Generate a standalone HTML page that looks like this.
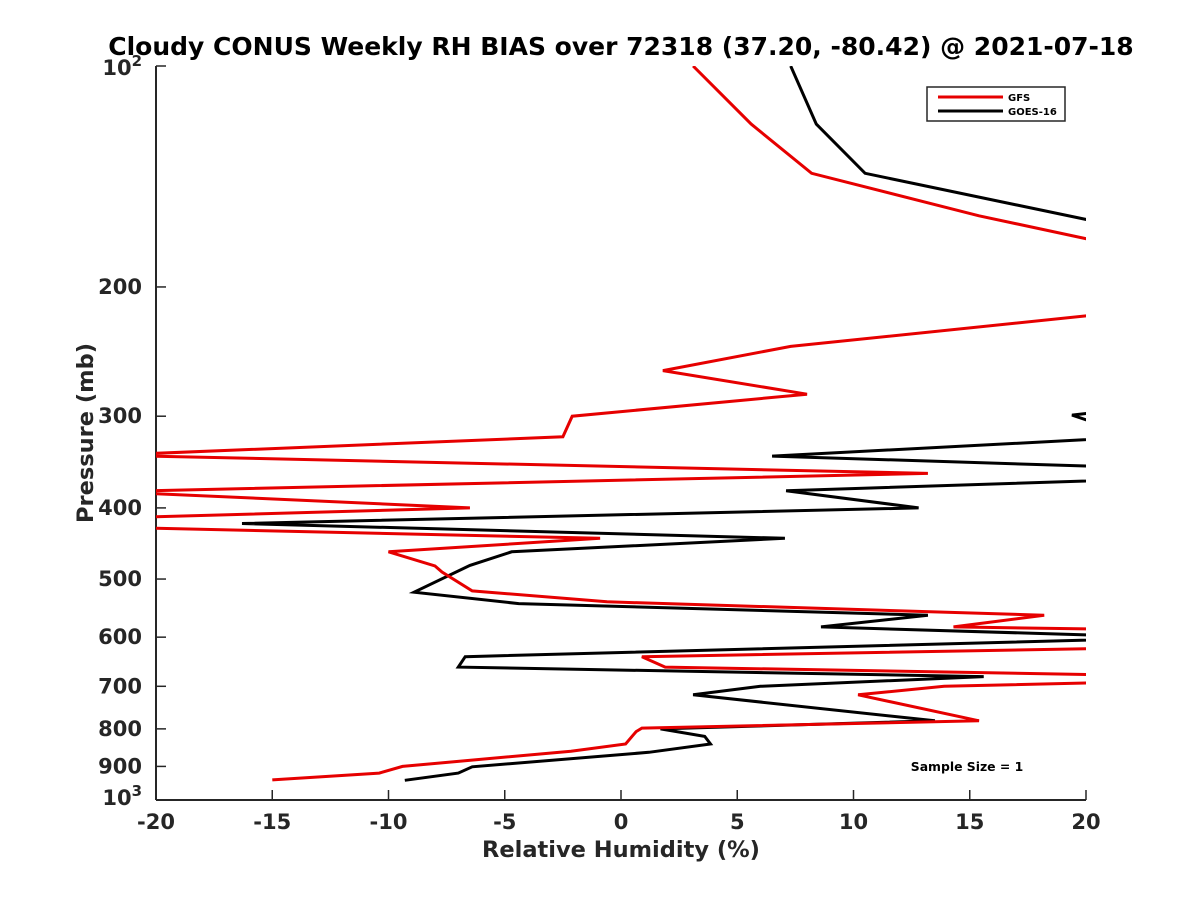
<!DOCTYPE html>
<html><head><meta charset="utf-8"><style>
body{margin:0;background:#fff;}
svg{display:block;font-family:"DejaVu Sans","Liberation Sans",sans-serif;}
</style></head><body>
<svg id="chart" width="1200" height="900">
<defs><clipPath id="plotclip"><rect x="156" y="66" width="930" height="734"/></clipPath></defs>
<text x="621" y="55" text-anchor="middle" font-size="25" font-weight="bold" fill="#000">Cloudy CONUS Weekly RH BIAS over 72318 (37.20, -80.42) @ 2021-07-18</text>
<g id="axes"></g>
<g id="series" clip-path="url(#plotclip)"></g>
<g>
<rect x="927" y="87" width="138" height="34" fill="#fff" stroke="#262626" stroke-width="1.5"/>
<line x1="938" y1="97" x2="1003" y2="97" stroke="#e60000" stroke-width="3"/>
<text x="1008" y="101" font-size="10" font-weight="bold">GFS</text>
<line x1="938" y1="111" x2="1003" y2="111" stroke="#000" stroke-width="3"/>
<text x="1008" y="115" font-size="10" font-weight="bold">GOES-16</text>
</g>
<text x="967" y="771" text-anchor="middle" font-size="12.4" font-weight="bold">Sample Size = 1</text>
<text x="621" y="857" text-anchor="middle" font-size="22.5" font-weight="bold" fill="#262626">Relative Humidity (%)</text>
<text transform="translate(93,433) rotate(-90)" text-anchor="middle" font-size="22.5" font-weight="bold" fill="#262626">Pressure (mb)</text>
</svg>
<script>
const xTicks=[-20,-15,-10,-5,0,5,10,15,20];
const yTicks=[100,200,300,400,500,600,700,800,900,1000];
const gfsP=[100,120,140,160,183,216,219,241,260,280,300,320,339,359,380,400,413,425,440,459,480,489,519,537,560,581,587,619,638,659,678,688,700,719,780,798,807,839,858,900,919,939];
const gfsV=[3.1,5.6,8.2,15.4,24,24,20,7.3,1.8,8.0,-2.1,-2.5,-22,13.2,-22,-6.5,-22,-22,-0.9,-10.0,-8.0,-7.7,-6.4,-0.6,18.2,14.3,24,24,0.9,1.9,24,24,13.9,10.2,15.4,0.9,0.65,0.2,-2.15,-9.4,-10.4,-15.0];
const goesP=[100,120,140,172,296,299,308,318,340,359,379,400,420,440,459,479,521,540,560,581,601,638,659,679,700,719,780,800,819,839,861,901,919,940];
const goesV=[7.3,8.4,10.5,24,20.6,19.4,20.6,24,6.5,30,7.1,12.8,-16.3,7.05,-4.7,-6.5,-8.9,-4.4,13.2,8.6,24,-6.7,-7.0,15.6,6.0,3.1,13.5,1.7,3.6,3.85,1.2,-6.4,-7.0,-9.3];
const X0=156,X1=1086,Y0=66,Y1=800;
function xs(v){return X0+(v+20)/40*(X1-X0);}
function ys(p){return Y0+(Math.log10(p)-2)*(Y1-Y0);}
const NS="http://www.w3.org/2000/svg";
const axes=document.getElementById('axes');
function mk(tag,attrs,parent){const e=document.createElementNS(NS,tag);for(const k in attrs)e.setAttribute(k,attrs[k]);parent.appendChild(e);return e;}
let a=mk('line',{x1:X0,y1:Y0,x2:X0,y2:Y1,stroke:'#262626','stroke-width':2},axes);


let b=mk('line',{x1:X0,y1:Y1,x2:X1,y2:Y1,stroke:'#262626','stroke-width':2},axes);


xTicks.forEach(v=>{
 const t=mk('line',{x1:xs(v),y1:Y1,x2:xs(v),y2:Y1-10,stroke:'#262626','stroke-width':1.5},axes);
 
 
 const l=mk('text',{x:xs(v),y:Y1+29,'text-anchor':'middle','font-size':21,'font-weight':'bold',fill:'#262626'},axes);
 l.textContent=String(v);
 
 
});
yTicks.forEach(p=>{
 const y=ys(p);
 const t=mk('line',{x1:X0,y1:y,x2:X0+10,y2:y,stroke:'#262626','stroke-width':1.5},axes);
 
 
 const l=mk('text',{x:X0-14,y:y+7,'text-anchor':'end','font-size':21,'font-weight':'bold',fill:'#262626'},axes);
 if(p===100||p===1000){
   l.setAttribute('y',y+(p===100?9:5));
   l.innerHTML='10<tspan dy="-9" font-size="15">'+(p===100?'2':'3')+'</tspan>';
 } else l.textContent=String(p);
 
 
});
const ser=document.getElementById('series');
function line(P,V,color,name){
 const pts=P.map((p,i)=>xs(V[i]).toFixed(1)+','+ys(p).toFixed(1)).join(' ');
 const e=mk('polyline',{points:pts,fill:'none',stroke:color,'stroke-width':3,'stroke-linejoin':'miter'},ser);
 
 
}
line(goesP,goesV,'#000','goes16-line');
line(gfsP,gfsV,'#e60000','gfs-line');
</script>
</body></html>
